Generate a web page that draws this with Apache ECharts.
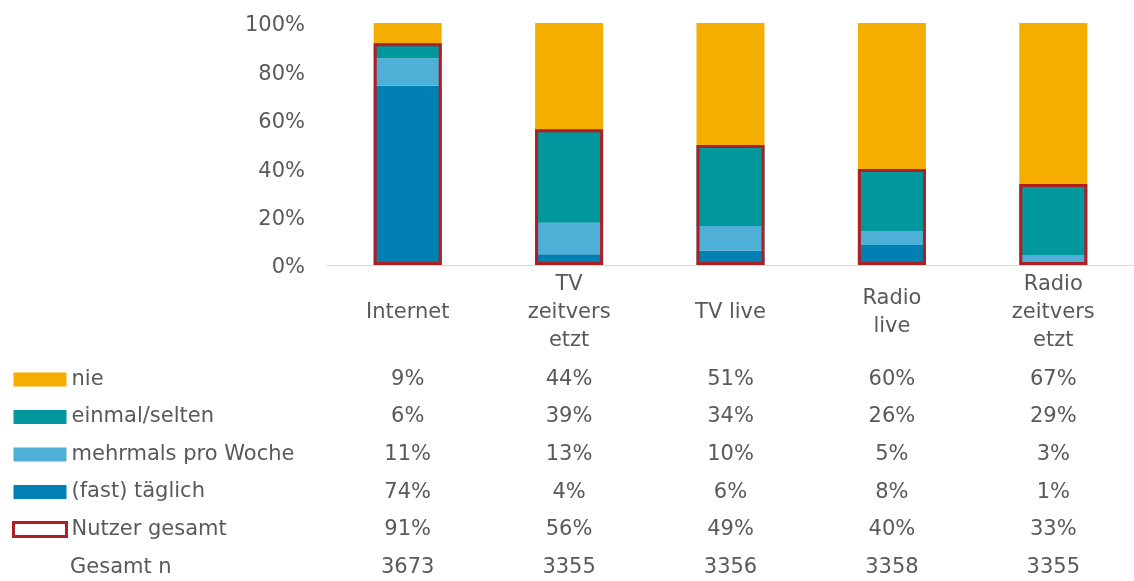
<!DOCTYPE html>
<html><head><meta charset="utf-8">
<script src="https://cdn.jsdelivr.net/npm/echarts@6/dist/echarts.min.js"></script>
<style>html,body{margin:0;padding:0;background:#fff}#c{width:1134px;height:581px}</style>
</head><body><div id="c"></div>
<script>
// Categories and tick labels
const categories = ['Internet', 'TV\nzeitvers\netzt', 'TV live', 'Radio\nlive', 'Radio\nzeitvers\netzt'];
const yTicks = [0, 20, 40, 60, 80, 100];

// Bar segment heights (%)
const barTaeglich = [74.1, 4.4, 5.9, 8.3, 1.2];
const barMehrmals = [11.3, 13.1, 10.2, 5.7, 2.9];
const barEinmal = [6.2, 38.6, 33.5, 25.7, 29.4];
const barNie = [8.4, 43.9, 50.4, 60.3, 66.5];
const barNutzer = [91.6, 56.1, 49.6, 39.7, 33.5];

// Printed table values
const tabNie = [9, 44, 51, 60, 67];
const tabEinmal = [6, 39, 34, 26, 29];
const tabMehrmals = [11, 13, 10, 5, 3];
const tabTaeglich = [74, 4, 6, 8, 1];
const tabNutzer = [91, 56, 49, 40, 33];
const tabGesamtN = [3673, 3355, 3356, 3358, 3355];

const FONT = 'DejaVu Sans';
const FS = 21;
const GREY = '#595959';
const C_NIE = '#F5AE00', C_EIN = '#00989C', C_MEHR = '#4EAFD7', C_TAEG = '#0080B3', C_RED = '#AE1F24';

const rows = [
  { vals: tabNie.map(v => v + '%'), m: 115 },
  { vals: tabEinmal.map(v => v + '%'), m: 152 },
  { vals: tabMehrmals.map(v => v + '%'), m: 190 },
  { vals: tabTaeglich.map(v => v + '%'), m: 228 },
  { vals: tabNutzer.map(v => v + '%'), m: 265 },
  { vals: tabGesamtN.map(String), m: 303 }
];

const xAxes = [{
  type: 'category', data: categories, gridIndex: 0, position: 'bottom',
  axisLine: { lineStyle: { color: '#D9D9D9', width: 1 } },
  axisTick: { show: false },
  axisLabel: { color: GREY, fontFamily: FONT, fontSize: FS, lineHeight: 28, margin: 48, verticalAlign: 'middle', interval: 0 }
}];
rows.forEach(r => xAxes.push({
  type: 'category', data: r.vals, gridIndex: 0, position: 'bottom', offset: 0,
  axisLine: { show: false }, axisTick: { show: false }, splitLine: { show: false },
  axisLabel: { color: GREY, fontFamily: FONT, fontSize: FS, margin: r.m, verticalAlign: 'middle', interval: 0 }
}));

const chart = echarts.init(document.getElementById('c'));
chart.setOption({
  animation: false,
  grid: { left: 327, right: -9, top: 23, bottom: 316, containLabel: false },
  legend: {
    orient: 'vertical', left: 12, top: 369, padding: 0, itemWidth: 53, itemHeight: 14, itemGap: 16.5,
    icon: 'rect', selectedMode: false,
    textStyle: { color: GREY, fontFamily: FONT, fontSize: FS, lineHeight: 20 },
    data: [
      { name: 'nie' }, { name: 'einmal/selten' }, { name: 'mehrmals pro Woche' }, { name: '(fast) täglich' },
      { name: 'Nutzer gesamt', itemStyle: { color: '#fff', borderColor: C_RED, borderWidth: 3 } }
    ]
  },
  graphic: [{ type: 'text', left: 70, top: 557, style: { text: 'Gesamt n', fill: GREY, font: FS + 'px ' + FONT } }],
  xAxis: xAxes,
  yAxis: {
    type: 'value', min: 0, max: 100, interval: 20,
    axisLine: { show: false }, axisTick: { show: false }, splitLine: { show: false },
    axisLabel: { color: GREY, fontFamily: FONT, fontSize: FS, margin: 22, verticalAlign: 'top', lineHeight: 6, formatter: v => yTicks.includes(v) ? v + '%' : '' }
  },
  series: [
    { name: '(fast) täglich', type: 'bar', stack: 's', data: barTaeglich, barWidth: 68, itemStyle: { color: C_TAEG } },
    { name: 'mehrmals pro Woche', type: 'bar', stack: 's', data: barMehrmals, barWidth: 68, itemStyle: { color: C_MEHR } },
    { name: 'einmal/selten', type: 'bar', stack: 's', data: barEinmal, barWidth: 68, itemStyle: { color: C_EIN } },
    { name: 'nie', type: 'bar', stack: 's', data: barNie, barWidth: 68, itemStyle: { color: C_NIE } },
    { name: 'Nutzer gesamt', type: 'bar', data: barNutzer, barWidth: 68, barGap: '-100%', z: 5,
      itemStyle: { color: 'rgba(0,0,0,0)', borderColor: C_RED, borderWidth: 3 } }
  ]
});
</script></body></html>
